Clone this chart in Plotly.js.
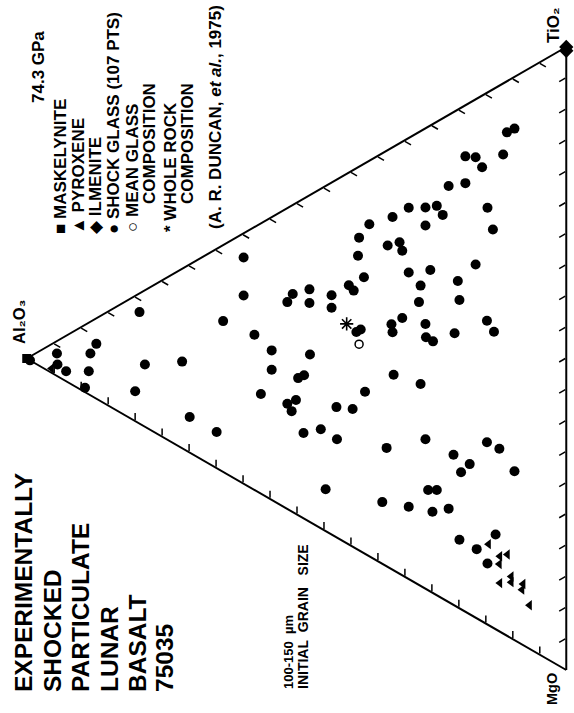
<!DOCTYPE html>
<html><head><meta charset="utf-8">
<script src="https://cdn.plot.ly/plotly-3.0.1.min.js"></script>
<style>
html,body{margin:0;padding:0;background:#fff;overflow:hidden;width:574px;height:713px;}
#wrap{position:absolute;left:0;top:0;width:713px;height:574px;transform-origin:0 0;transform:translate(0,713px) rotate(-90deg);}
</style></head><body><div id="wrap"></div>
<script>
// Shock glass (wt% fractions)
const glassAl2O3 = [59.8,59.8,63.6,57.8,54.6,51.7,50.7,47.6,47.6,43.5,43.5,40.3,39.4,37.5,38.6,38.4,36.5,33.1,30.9,30.4,32.2,29.2,26.1,24.0,22.9,26.1,29.2,25.2,27.0,27.3,30.4,32.4,32.2,26.1,26.0,24.7,20.7,20.1,19.8,16.8,14.7,13.4,14.6,13.6,21.8,18.7,18.7,16.8,15.6,11.7,11.0,9.6,38.9,38.1,32.0,27.0,99.4,94.4,94.3,92.7,88.2,87.1,88.5,89.2,79.1,78.1,71.2,79.9,69.8,54.6,47.5,49.7,48.6,56.6,51.7,50.1,50.9,64.8,48.7,45.5,42.5,42.6,39.6,37.3,33.3,44.6,34.1,26.1,20.9,17.9,19.5,14.7,12.4,9.6,29.2,25.6,24.0,24.8,21.8,19.8,16.6,13.1,14.6];
const glassMgO   = [3.9,10.0,12.2,17.3,21.4,15.1,14.3,15.1,17.3,18.1,20.1,18.1,19.4,18.2,14.2,11.4,10.2,15.3,15.9,17.5,11.2,11.2,12.7,13.5,15.5,15.6,21.6,23.2,24.8,27.3,28.3,28.3,29.7,31.4,33.6,34.9,35.6,27.5,30.7,26.5,36.6,39.0,18.5,22.5,11.4,12.5,8.2,9.3,11.5,11.4,8.2,8.3,26.3,26.3,36.6,40.6,0.6,2.0,3.8,5.7,5.1,4.1,7.8,10.1,3.0,11.9,14.9,15.3,24.5,24.5,25.6,28.3,28.4,27.4,31.4,31.6,33.0,29.4,37.6,38.6,41.7,36.5,38.3,36.7,47.7,48.7,56.0,49.9,55.0,58.0,58.5,56.1,58.3,63.3,59.2,58.3,59.1,62.2,63.2,69.2,72.3,71.7,75.6];
const glassTiO2  = [36.3,30.2,24.2,24.9,24.0,33.2,35.0,37.3,35.1,38.4,36.4,41.6,41.2,44.3,47.2,50.2,53.3,51.6,53.2,52.1,56.6,59.6,61.2,62.5,61.6,58.3,49.2,51.6,48.2,45.4,41.3,39.3,38.1,42.5,40.4,40.4,43.7,52.4,49.5,56.7,48.7,47.6,66.9,63.9,66.8,68.8,73.1,73.9,72.9,76.9,80.8,82.1,34.8,35.6,31.4,32.4,0.0,3.6,1.9,1.6,6.7,8.8,3.7,0.7,17.9,10.0,13.9,4.8,5.7,20.9,26.9,22.0,23.0,16.0,16.9,18.3,16.1,5.8,13.7,15.9,15.8,20.9,22.1,26.0,19.0,6.7,9.9,24.0,24.1,24.1,22.0,29.2,29.3,27.1,11.6,16.1,16.9,13.0,15.0,11.0,11.1,15.2,9.8];

// Pyroxene
const pyxAl2O3 = [14.4,10.9,12.3,12.4,12.3,10.2,10.2,8.0,8.2,6.8,95.4];
const pyxMgO   = [72.6,76.0,75.6,76.8,79.9,79.9,80.8,82.2,83.0,86.2,3.9];
const pyxTiO2  = [13.0,13.1,12.1,10.8,7.8,9.9,9.0,9.8,8.8,7.0,0.7];

// Maskelynite
const maskAl2O3 = [100]; const maskMgO = [0]; const maskTiO2 = [0];
// Ilmenite
const ilmAl2O3 = [0, 0]; const ilmMgO = [0, 0.6]; const ilmTiO2 = [100, 99.4];
// Mean glass composition
const meanAl2O3 = [38.4]; const meanMgO = [28.5]; const meanTiO2 = [33.1];
// Whole rock composition
const wrAl2O3 = [40.7]; const wrMgO = [24.1]; const wrTiO2 = [35.2];

const FONT = "Liberation Sans, Arial, Helvetica, DejaVu Sans, sans-serif";

const traces = [
  {type:'scatterternary', mode:'markers', name:'SHOCK GLASS (107 PTS)', a:glassAl2O3, b:glassMgO, c:glassTiO2,
   marker:{symbol:'circle', size:10, color:'black'}, cliponaxis:false},
  {type:'scatterternary', mode:'markers', name:'PYROXENE', a:pyxAl2O3, b:pyxMgO, c:pyxTiO2,
   marker:{symbol:'triangle-up', size:9, color:'black'}, cliponaxis:false},
  {type:'scatterternary', mode:'markers', name:'MASKELYNITE', a:maskAl2O3, b:maskMgO, c:maskTiO2,
   marker:{symbol:'square', size:9, color:'black'}, cliponaxis:false},
  {type:'scatterternary', mode:'markers', name:'ILMENITE', a:ilmAl2O3, b:ilmMgO, c:ilmTiO2,
   marker:{symbol:'diamond', size:11, color:'black'}, cliponaxis:false},
  {type:'scatterternary', mode:'markers', name:'MEAN GLASS COMPOSITION', a:meanAl2O3, b:meanMgO, c:meanTiO2,
   marker:{symbol:'circle-open', size:8, color:'black', line:{width:1.5, color:'black'}}, cliponaxis:false},
  {type:'scatterternary', mode:'markers', name:'WHOLE ROCK COMPOSITION', a:wrAl2O3, b:wrMgO, c:wrTiO2,
   marker:{symbol:'asterisk-open', size:11, color:'black', line:{width:1.6, color:'black'}}, cliponaxis:false}
];

const axisStyle = {
  showgrid:false, showline:true, linecolor:'black', linewidth:2,
  ticks:'inside', ticklen:7, tickwidth:1.5, tickcolor:'black',
  tick0:0, dtick:5, showticklabels:false, title:{text:''}
};

// page coordinates (in the upright frame) -> paper coordinates
const ML = 43, MT = 26, PW = 623, PH = 541;
function ann(text, X, Y, size, xanchor) {
  return {xref:'paper', yref:'paper', x:(X-ML)/PW, y:(MT+PH-Y)/PH, text:text,
          showarrow:false, xanchor:xanchor||'left', yanchor:'middle',
          font:{family:FONT, size:size, color:'black', weight:'bold'}};
}

const titleLines = ['EXPERIMENTALLY','SHOCKED','PARTICULATE','LUNAR','BASALT','75035'];
const titleY = [24, 52.5, 81, 109, 137.5, 164];

const annotations = [];
titleLines.forEach((t,i)=>annotations.push(ann(t, 19, titleY[i], 24.5)));
annotations.push(ann('100-150\u00a0 µm', 22, 288, 13));
annotations.push(ann('INITIAL\u00a0 GRAIN\u00a0\u00a0 SIZE', 22, 303, 14));
annotations.push(ann('Al₂O₃', 367, 19, 16.5));
annotations.push(ann('TiO₂', 668, 553, 17));
annotations.push(ann('MgO', 42, 552, 14.5, 'right'));
// legend block
const LF = 17;
annotations.push(ann('74.3 GPa', 608, 39, LF));
annotations.push(ann('■ MASKELYNITE', 477, 60, LF));
annotations.push(ann('▲ PYROXENE', 477, 78, LF));
annotations.push(ann('◆ ILMENITE', 477, 96, LF));
annotations.push(ann('● SHOCK GLASS (107 PTS)', 477, 114, LF));
annotations.push(ann('○ MEAN GLASS', 479, 132, LF));
annotations.push(ann('COMPOSITION', 507, 149, LF));
annotations.push(ann('* WHOLE ROCK', 479, 171, LF));
annotations.push(ann('COMPOSITION', 507, 187, LF));
annotations.push(ann('(A. R. DUNCAN, <i>et al.</i>, 1975)', 482, 215, LF));

const layout = {
  width:713, height:574,
  margin:{l:ML, r:713-ML-PW, t:MT, b:574-MT-PH, pad:0},
  paper_bgcolor:'white', plot_bgcolor:'white',
  showlegend:false,
  font:{family:FONT, color:'black'},
  ternary:{sum:100, bgcolor:'white', domain:{x:[0,1], y:[0,1]},
    aaxis:axisStyle, baxis:axisStyle, caxis:axisStyle},
  annotations:annotations
};

Plotly.newPlot('wrap', traces, layout, {displayModeBar:false, staticPlot:true});
</script></body></html>
